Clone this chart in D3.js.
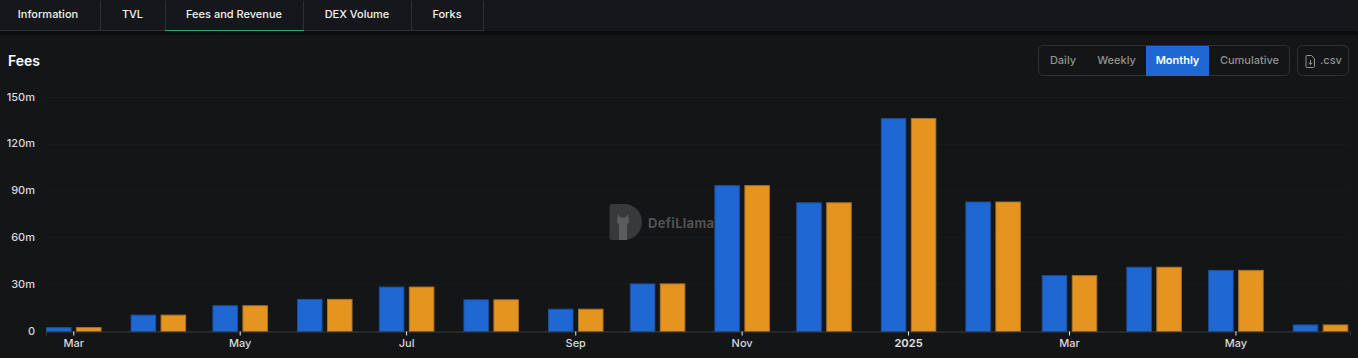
<!DOCTYPE html>
<html>
<head>
<meta charset="utf-8">
<script src="https://cdn.jsdelivr.net/npm/d3@7"></script>
<style>
    html, body { margin: 0; padding: 0; background: #131517; overflow: hidden; }
    svg { display: block; font-family: Inter, "Liberation Sans", sans-serif; }
</style>
</head>
<body>
<svg id="chart" width="1358" height="358"></svg>
<script>
// ==================================
// DATA
// ==================================
const months = ["2024-03-01", "2024-04-01", "2024-05-01", "2024-06-01", "2024-07-01", "2024-08-01", "2024-09-01", "2024-10-01",
    "2024-11-01", "2024-12-01", "2025-01-01", "2025-02-01", "2025-03-01", "2025-04-01", "2025-05-01", "2025-06-01"];
const fees = [2.5, 10.5, 16.5, 20.6, 28.5, 20.3, 14.3, 30.5, 93.5, 82.5, 136.5, 83, 35.8, 41.2, 39.2, 4.2];
const revenue = [2.5, 10.5, 16.5, 20.6, 28.5, 20.3, 14.3, 30.5, 93.5, 82.5, 136.5, 83, 35.8, 41.2, 39.2, 4.2];
const yTicks = [0, 30, 60, 90, 120, 150];
const xTickDates = ["2024-03-01", "2024-05-01", "2024-07-01", "2024-09-01", "2024-11-01", "2025-01-01", "2025-03-01", "2025-05-01"];
const xTickLabels = ["Mar", "May", "Jul", "Sep", "Nov", "2025", "Mar", "May"];
const tabs = ["Information", "TVL", "Fees and Revenue", "DEX Volume", "Forks"];
const tabEdges = [0, 100, 165, 303, 411, 483];
const periods = ["Daily", "Weekly", "Monthly", "Cumulative"];
const periodEdges = [1038, 1087, 1146, 1209, 1290];

const parseDay = d3.utcParse("%Y-%m-%d");
const svg = d3.select("#chart");

// ==================================
// TABS
// ==================================
svg.append("rect").attr("width", 1358).attr("height", 31).attr("fill", "#15171a");
svg.append("rect").attr("y", 31).attr("width", 1358).attr("height", 4).attr("fill", "#0c0d0f");
svg.append("line").attr("x1", 0).attr("x2", 483).attr("y1", 30.5).attr("y2", 30.5).attr("stroke", "#2d2f33");

tabs.forEach((name, i) => {
    svg.append("text")
        .attr("x", (tabEdges[i] + tabEdges[i + 1]) / 2 - (i === 0 ? 2 : 0))
        .attr("y", 18)
        .attr("text-anchor", "middle")
        .attr("fill", "#f2f3f4")
        .attr("font-size", 11)
        .attr("font-weight", 500)
        .text(name);
    svg.append("line")
        .attr("x1", tabEdges[i + 1] + 0.5).attr("x2", tabEdges[i + 1] + 0.5)
        .attr("y1", 1).attr("y2", 31)
        .attr("stroke", "#2d2f33");
});
svg.append("line").attr("x1", tabEdges[2]).attr("x2", tabEdges[3] + 1).attr("y1", 30.5).attr("y2", 30.5).attr("stroke", "#2fa866");

// ==================================
// HEADER
// ==================================
svg.append("text").attr("x", 8).attr("y", 66).attr("fill", "#fff")
    .attr("font-size", 14).attr("font-weight", 600).text("Fees");

svg.append("rect").attr("x", 1038.5).attr("y", 45.5).attr("width", 251).attr("height", 30).attr("rx", 5)
    .attr("fill", "none").attr("stroke", "#2f3135");
periods.forEach((name, i) => {
    const active = name === "Monthly";
    if (active) {
        svg.append("rect").attr("x", periodEdges[i]).attr("y", 46)
            .attr("width", periodEdges[i + 1] - periodEdges[i]).attr("height", 30).attr("fill", "#1f67d2");
    }
    svg.append("text")
        .attr("x", (periodEdges[i] + periodEdges[i + 1]) / 2 + (i === 0 ? 0.5 : 0))
        .attr("y", 64)
        .attr("text-anchor", "middle")
        .attr("fill", active ? "#fff" : "#8f9296")
        .attr("font-size", 11)
        .attr("font-weight", active ? 600 : 500)
        .text(name);
});

svg.append("rect").attr("x", 1297.5).attr("y", 45.5).attr("width", 51).attr("height", 30).attr("rx", 5)
    .attr("fill", "none").attr("stroke", "#2f3135");
svg.append("path")
    .attr("d", "M1307 55.5h4.5l3 3v8a1 1 0 0 1-1 1h-6.500a1 1 0 0 1-1-1v-10a1 1 0 0 1 1-1z M1310.500 60v4.500 M1308.700 62.800l1.800 1.800 1.800-1.800")
    .attr("fill", "none").attr("stroke", "#8f9296").attr("stroke-width", 1);
svg.append("text").attr("x", 1320).attr("y", 64).attr("fill", "#8f9296")
    .attr("font-size", 11).attr("font-weight", 500).text(".csv");

// ==================================
// SCALES
// ==================================
const x = d3.scaleUtc()
    .domain([parseDay("2024-02-20"), parseDay("2025-06-12")])
    .range([46, 1350]);
const y = d3.scaleLinear().domain([0, 150]).range([331.5, 97.5]);

// ==================================
// GRID + WATERMARK
// ==================================
svg.append("g").selectAll("line")
    .data(yTicks.filter(d => d !== 0))
    .enter()
    .append("line")
    .attr("x1", 45).attr("x2", 1349)
    .attr("y1", d => y(d)).attr("y2", d => y(d))
    .attr("stroke", "#191b1e");

const mark = svg.append("g");
mark.append("path")
    .attr("d", "M612 204h12a18 18 0 0 1 0 36h-12a2.500 2.500 0 0 1-2.500-2.500v-31a2.500 2.500 0 0 1 2.500-2.500z")
    .attr("fill", "#38393b");
mark.append("path")
    .attr("d", "M619 240v-15l-2-3 1-8 2.500 3.500h5l2.500-3.500 1 8-2 3v15z")
    .attr("fill", "#5b5c5e");
mark.append("text").attr("x", 648).attr("y", 228).attr("fill", "#505153")
    .attr("font-size", 13).attr("font-weight", 700).attr("letter-spacing", 0.3).text("DefiLlama");

// ==================================
// BARS
// ==================================
const barWidth = x(parseDay("2024-03-10")) - x(parseDay("2024-03-01"));
const barGap = x(parseDay("2024-03-03")) - x(parseDay("2024-03-01"));

function drawBars(values, fill, stroke, side) {
    svg.append("g").selectAll("rect")
        .data(values)
        .enter()
        .append("rect")
        .attr("x", (d, i) => {
            const c = x(parseDay(months[i])) + 0.5;
            return side < 0 ? c - barGap / 2 - barWidth : c + barGap / 2;
        })
        .attr("y", d => y(d))
        .attr("width", barWidth)
        .attr("height", d => y(0) - y(d))
        .attr("fill", fill)
        .attr("stroke", stroke)
        .attr("stroke-width", 1);
}
drawBars(fees, "#1f67d2", "#1b4f9c", -1);
drawBars(revenue, "#e59420", "#a9732a", 1);

// ==================================
// AXES
// ==================================
const xAxis = d3.axisBottom(x)
    .tickValues(xTickDates.map(parseDay))
    .tickSize(4)
    .tickPadding(4)
    .tickFormat((d, i) => xTickLabels[i]);

const xG = svg.append("g").attr("transform", "translate(0,331.5)").call(xAxis);
xG.select(".domain").attr("stroke", "#3b3d41");
xG.selectAll(".tick line").attr("stroke", "#e8e8e8");
xG.selectAll(".tick text")
    .attr("fill", "#d9dadb")
    .attr("font-family", "Inter, sans-serif")
    .attr("font-size", 11)
    .attr("font-weight", (d, i) => xTickLabels[i] === "2025" ? 700 : 500);

const yAxis = d3.axisLeft(y)
    .tickValues(yTicks)
    .tickSize(0)
    .tickPadding(0)
    .tickFormat(d => d === 0 ? "0" : d + "m");

const yG = svg.append("g").attr("transform", "translate(35,-1)").call(yAxis);
yG.select(".domain").remove();
yG.selectAll(".tick text")
    .attr("fill", "#d9dadb")
    .attr("font-family", "Inter, sans-serif")
    .attr("font-size", 11)
    .attr("font-weight", 500);
</script>
</body>
</html>
